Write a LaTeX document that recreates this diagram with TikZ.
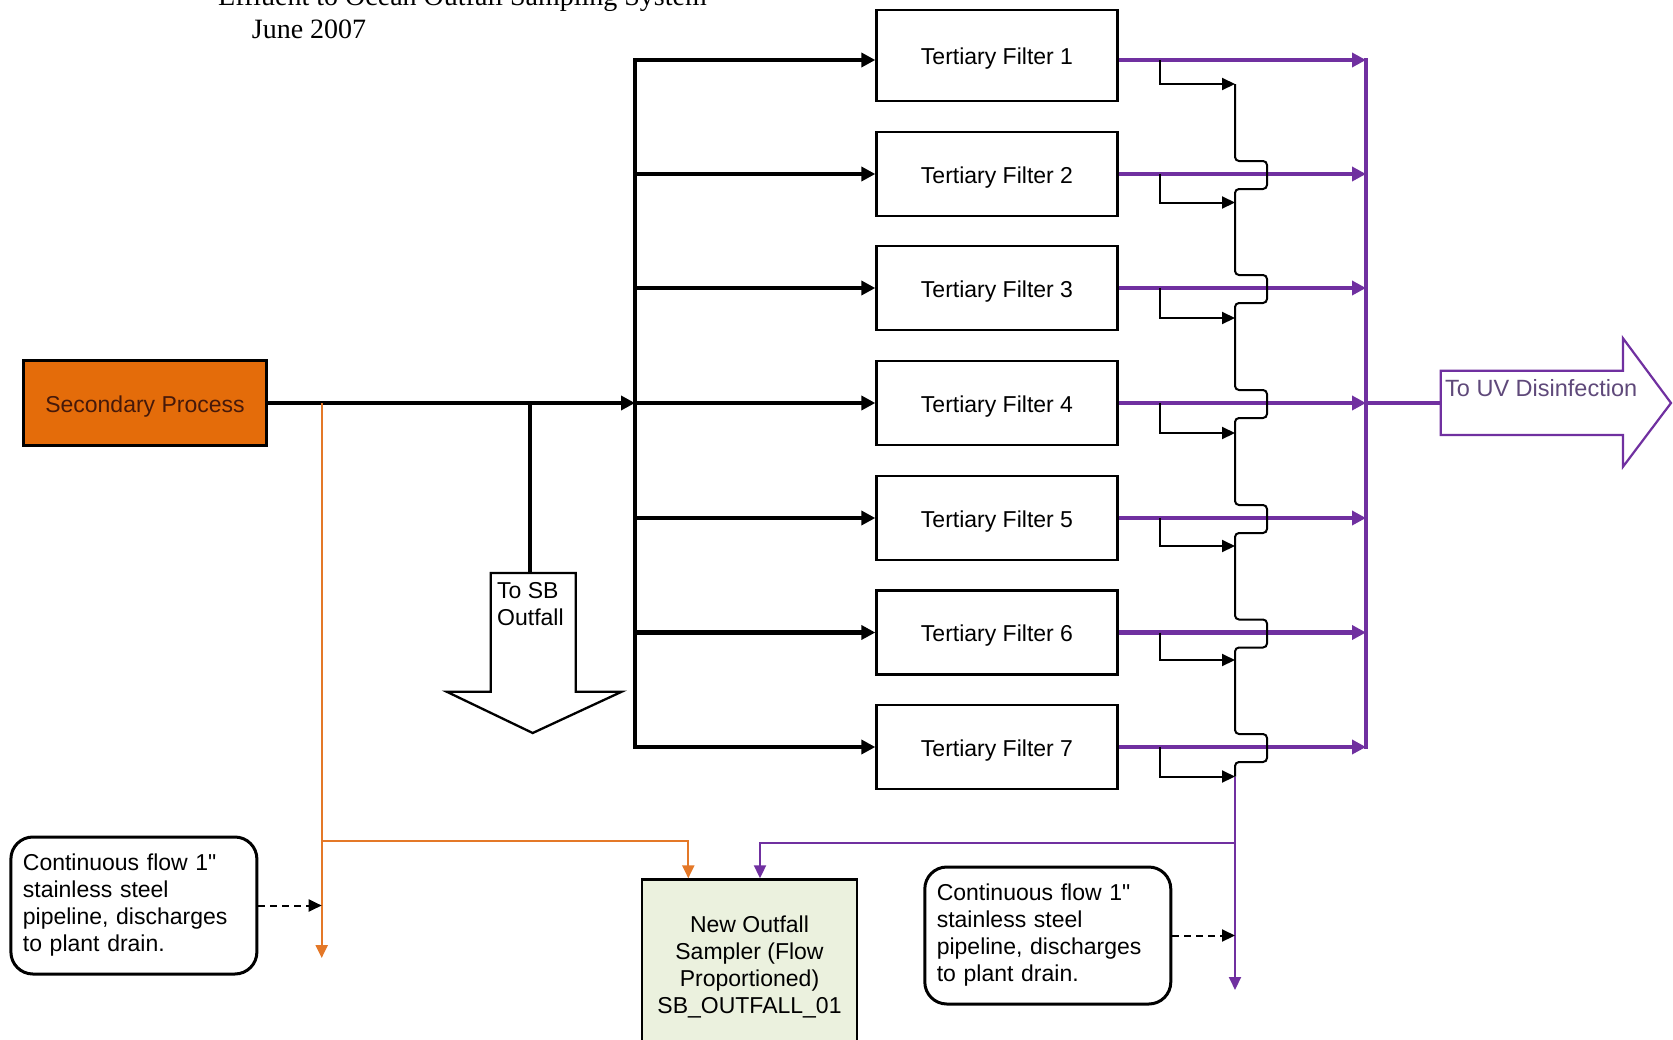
\documentclass[tikz,border=0pt]{standalone}
\usepackage{fontspec}
\setmainfont{Liberation Sans}[Ligatures=TeXOff]
\newfontfamily\titlefont{Liberation Serif}
\usetikzlibrary{arrows.meta}
\definecolor{procorange}{RGB}{228,108,10}
\definecolor{pipeorange}{RGB}{228,120,40}
\definecolor{uvpurple}{RGB}{112,48,160}
\definecolor{uvtext}{RGB}{95,73,122}
\definecolor{samplergreen}{RGB}{235,241,222}
\definecolor{proctext}{RGB}{70,25,10}
\begin{document}
\begin{tikzpicture}[x=1pt,y=-1pt,font=\fontsize{23}{27}\selectfont,
  filterbox/.style={draw,line width=2.3pt,minimum width=241pt,minimum height=84pt,inner sep=0pt,text height=18pt,text depth=0pt},
  flow/.style={line width=4.7pt,-{Triangle[length=14pt,width=14pt]}},
  pflow/.style={uvpurple,line width=4.7pt,-{Triangle[length=14pt,width=14pt]}},
  sample/.style={line width=2pt,-{Triangle[length=13pt,width=12pt]}},
  thinpurple/.style={uvpurple,line width=2pt,-{Triangle[length=13pt,width=12pt]}},
  orangepipe/.style={pipeorange,line width=2.2pt,-{Triangle[length=13pt,width=12pt]}},
  callout/.style={draw,line width=3pt,rounded corners=22pt,align=left,font=\fontsize{23}{27}\selectfont,text width=222pt,inner xsep=12pt,minimum height=137pt},
  dasharrow/.style={dash pattern=on 7pt off 5pt,line width=2pt,-{Triangle[length=13pt,width=12pt]}},
  titletext/.style={anchor=base west,inner sep=0pt,font=\titlefont\fontsize{28}{32}\selectfont}]
\fill[white] (0,0) rectangle (1673,1039);
\useasboundingbox (0,0) rectangle (1673,1039);

% title
\node[titletext] (title1) at (218,5) {Effluent to Ocean Outfall Sampling System};
\node[titletext] (title2) at (251.7,38.5) {June 2007};

% filters
\node[filterbox,minimum height=91pt] (f1) at (997,55.5) {Tertiary Filter 1};
\foreach \i/\y in {2/174,3/288,4/403,5/518,6/632.5,7/747}
  \node[filterbox] (f\i) at (997,\y) {Tertiary Filter \i};

% bus coordinates
\foreach \i/\y in {1/60,2/174,3/288,4/403,5/518,6/632.5,7/747}{
  \coordinate (b\i) at (635,\y);
  \coordinate (p\i) at (1366,\y);
}

% secondary process
\node[draw,line width=2.3pt,fill=procorange,text=proctext,minimum width=243pt,minimum height=85pt,text height=18pt,text depth=0pt] (sp) at (145,403) {Secondary Process};

% black feed
\draw[line width=4.7pt,line cap=rect] (b1) -- (b7);
\foreach \i in {1,...,7}
  \draw[flow] (b\i) -- (b\i -| f\i.west);
\draw[flow] (sp.east) -- (b4);

% To SB Outfall
\coordinate (sbj) at (530,403);
\coordinate (sbtop) at (530,573);
\draw[line width=4.7pt] (sbj) -- (sbtop);
\draw[line width=2.3pt,line join=miter] (490.7,573) -- (575.7,573) -- (575.7,691.7) -- (621.7,691.7) -- (532.7,733) -- (446.7,691.7) -- (490.7,691.7) -- cycle;
\node[anchor=north west,inner sep=0pt,align=left] (sblabel) at (497,582.5) {To SB\\Outfall};

% purple outflow
\foreach \i in {1,...,7}
  \draw[pflow] (f\i.east |- p\i) -- (p\i);
\draw[uvpurple,line width=4.2pt,line cap=rect] (p1) -- (p7);
\coordinate (uvtail) at (1440.7,403);
\draw[uvpurple,line width=4.7pt] (p4) -- (uvtail);
\draw[uvpurple,line width=2.2pt,fill=white,line join=miter] (1440.7,370.7) -- (1623,370.7) -- (1623,338.3) -- (1671,403) -- (1623,466.7) -- (1623,435) -- (1440.7,435) -- cycle;
\node[anchor=base west,text=uvtext,inner sep=0pt,font=\fontsize{23.5}{27}\selectfont] (uvlabel) at (1445,396) {To UV Disinfection};

% sample taps
\foreach \i/\y/\t in {1/60/84,2/174/202.5,3/288/318,4/403/433,5/518/546,6/632.5/660,7/747/776.5}{
  \coordinate (s\i) at (1160,\y);
  \coordinate (t\i) at (1235,\t);
  \draw[sample] (s\i) |- (t\i);
}
\draw[line width=2pt,rounded corners=4pt]
  (t1) -- (1235,161) -- (1267,161) -- (1267,189) -- (1235,189)
  -- (t2) -- (1235,275) -- (1267,275) -- (1267,303) -- (1235,303)
  -- (t3) -- (1235,390) -- (1267,390) -- (1267,418) -- (1235,418)
  -- (t4) -- (1235,505) -- (1267,505) -- (1267,533) -- (1235,533)
  -- (t5) -- (1235,619.5) -- (1267,619.5) -- (1267,647.5) -- (1235,647.5)
  -- (t6) -- (1235,734) -- (1267,734) -- (1267,762) -- (1235,762)
  -- (t7);

% sampler
\node[draw,line width=2.3pt,fill=samplergreen,anchor=north,minimum width=215.6pt,align=center,inner ysep=36pt] (sampler) at (749.5,878.3) {New Outfall\\Sampler (Flow\\Proportioned)\\SB\_OUTFALL\_01};

% purple sample line
\coordinate (pdrain) at (1235,990);
\coordinate (pj) at (1235,843);
\coordinate (pin) at (760,878.3);
\draw[thinpurple] (t7) -- (pdrain);
\draw[thinpurple] (pj) -| (pin);

% orange sample line
\coordinate (oj) at (321.7,403);
\coordinate (odrain) at (321.7,958);
\coordinate (ok) at (321.7,841);
\coordinate (oin) at (688.3,878.3);
\draw[orangepipe] (oj) -- (odrain);
\draw[orangepipe] (ok) -| (oin);

% callouts
\node[callout] (lc) at (133.9,905.5) {Continuous flow 1"\\stainless steel\\pipeline, discharges\\to plant drain.};
\node[callout] (rc) at (1047.8,935.5) {Continuous flow 1"\\stainless steel\\pipeline, discharges\\to plant drain.};
\draw[dasharrow] (lc.east) -- (lc.east -| odrain);
\draw[dasharrow] (rc.east) -- (rc.east -| pdrain);
\end{tikzpicture}
\end{document}
